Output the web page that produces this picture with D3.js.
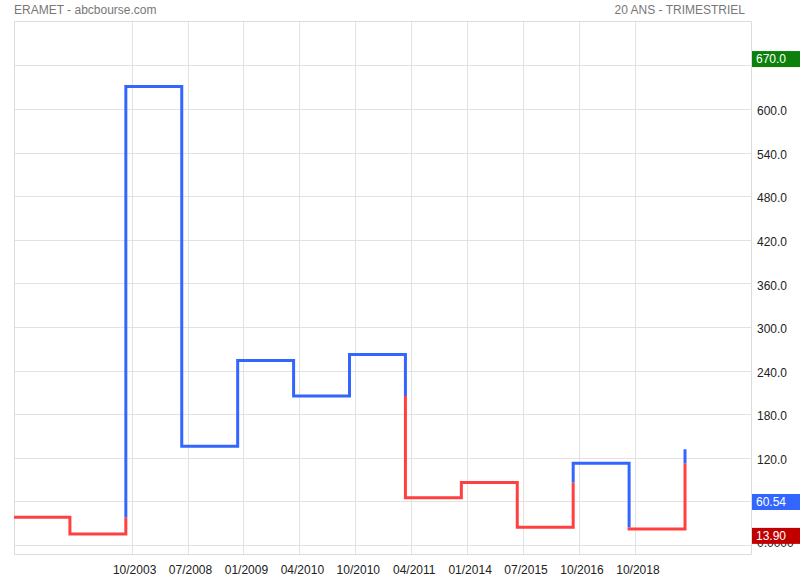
<!DOCTYPE html>
<html><head><meta charset="utf-8">
<script src="https://cdn.jsdelivr.net/npm/d3@7"></script>
<style>
html,body{margin:0;padding:0;background:#fff;}
svg text{font-family:"Liberation Sans",Arial,sans-serif;}
</style></head>
<body><svg id="c" width="800" height="580"></svg>
<script>
// ---- data ----
const title = "ERAMET - abcbourse.com";
const subtitle = "20 ANS - TRIMESTRIEL";
const kagiLevels = [38.1, 15.0, 631, 136, 254, 205, 262, 65, 86, 24.3, 112.4, 22.0, 131.7];
const dateLabels = ["10/2003","07/2008","01/2009","04/2010","10/2010","04/2011","01/2014","07/2015","10/2016","10/2018"];
const gridValues = [0, 60, 120, 180, 240, 300, 360, 420, 480, 540, 600, 660];
const yTickValues = [0, 120, 180, 240, 300, 360, 420, 480, 540, 600];
const yTickLabels = ["0.0000","120.0","180.0","240.0","300.0","360.0","420.0","480.0","540.0","600.0"];
const badgeValues = [670.0, 60.54, 13.90];
const badgeLabels = ["670.0", "60.54", "13.90"];
const badgeColors = ["#0b800b", "#3366ff", "#c00000"];

// ---- layout ----
const svg = d3.select("#c");
const L = 14, R = 751, T = 21, B = 554;
const x = d3.scaleLinear().domain([0, 13.18]).range([L, R]);
const y = d3.scaleLinear().domain([-12.4, 721]).range([B, T]);
const UP = "#3366ff", DOWN = "#ff4040";
const gridOffset = 5.8;

// header
svg.append("text").attr("x", 14).attr("y", 14).attr("font-size", 12).attr("fill", "#777").text(title);
svg.append("text").attr("x", 745).attr("y", 14).attr("text-anchor", "end").attr("font-size", 12).attr("fill", "#777").text(subtitle);

// grid
const g = svg.append("g");
g.selectAll("line.h").data(gridValues).enter().append("line")
  .attr("x1", L).attr("x2", R).attr("y1", d => Math.round(y(d)) + 0.5).attr("y2", d => Math.round(y(d)) + 0.5)
  .attr("stroke", "#e2e2e2").attr("stroke-width", 1);
g.selectAll("line.v").data(dateLabels).enter().append("line")
  .attr("x1", (d, i) => Math.round(x(i + 2) + gridOffset) + 0.5).attr("x2", (d, i) => Math.round(x(i + 2) + gridOffset) + 0.5)
  .attr("y1", T).attr("y2", B).attr("stroke", "#e2e2e2").attr("stroke-width", 1);
g.append("rect").attr("x", L + 0.5).attr("y", T + 0.5).attr("width", R - L).attr("height", B - T)
  .attr("fill", "none").attr("stroke", "#dcdcdc").attr("stroke-width", 1);

// y tick labels
svg.selectAll("text.yt").data(yTickValues).enter().append("text")
  .attr("x", 757).attr("y", d => y(d) + (d === 0 ? -2 : 2)).attr("dy", "0.35em").attr("font-size", 12).attr("fill", "#222")
  .text((d, i) => yTickLabels[i]);

// x labels
svg.selectAll("text.xt").data(dateLabels).enter().append("text")
  .attr("x", (d, i) => x(i + 2) + gridOffset + 3).attr("y", 574).attr("text-anchor", "middle")
  .attr("font-size", 12).attr("fill", "#222").text(d => d);

// ---- kagi line ----
let state = DOWN;
let lastHigh = kagiLevels[0], lastLow = null;
const segs = [];
function addSeg(a, b, color) { segs.push({a, b, color}); }
addSeg([0, kagiLevels[0]], [1, kagiLevels[0]], state);
for (let k = 1; k < kagiLevels.length; k++) {
  const prev = kagiLevels[k - 1], cur = kagiLevels[k];
  const xi = k;
  if (cur > prev) {
    if (state === DOWN && lastHigh !== null && cur > lastHigh && lastHigh > prev) {
      addSeg([xi, prev], [xi, lastHigh], DOWN);
      state = UP;
      addSeg([xi, lastHigh], [xi, cur], UP);
    } else addSeg([xi, prev], [xi, cur], state);
    if (k > 1) lastLow = prev;
  } else {
    if (state === UP && lastLow !== null && cur < lastLow && lastLow < prev) {
      addSeg([xi, prev], [xi, lastLow], UP);
      state = DOWN;
      addSeg([xi, lastLow], [xi, cur], DOWN);
    } else addSeg([xi, prev], [xi, cur], state);
    if (k > 1) lastHigh = prev;
  }
  if (k < kagiLevels.length - 1) addSeg([xi, cur], [xi + 1, cur], state);
}
const runs = [];
segs.forEach(s => {
  const last = runs[runs.length - 1];
  if (last && last.color === s.color) last.pts.push(s.b);
  else runs.push({color: s.color, pts: [s.a, s.b]});
});
const line = d3.line().x(d => x(d[0])).y(d => y(d[1]));
svg.append("g").selectAll("path").data(runs).enter().append("path")
  .attr("d", d => line(d.pts)).attr("fill", "none").attr("stroke", d => d.color)
  .attr("stroke-width", 3).attr("stroke-linejoin", "miter").attr("stroke-linecap", "butt");

// ---- badges ----
const bg = svg.append("g");
badgeValues.forEach((v, i) => {
  const cy = y(v) + 1;
  bg.append("rect").attr("x", 752).attr("y", cy - 8).attr("width", 48).attr("height", 16).attr("fill", badgeColors[i]);
  bg.append("text").attr("x", 756).attr("y", cy).attr("dy", "0.36em").attr("font-size", 12).attr("fill", "#fff").text(badgeLabels[i]);
});
</script></body></html>
